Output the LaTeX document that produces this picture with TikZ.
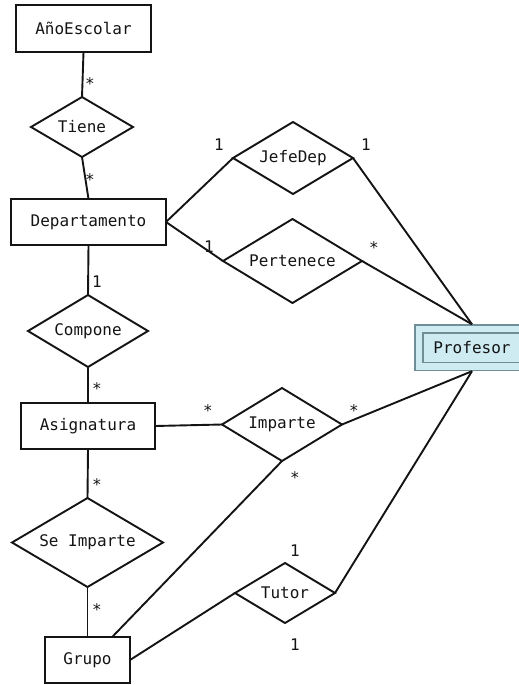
\documentclass[tikz,border=0pt]{standalone}
\usepackage{fontspec}
\newfontfamily\erfont{DejaVu Sans Mono}
\usetikzlibrary{shapes.geometric}
\definecolor{entfill}{RGB}{205,235,241}
\definecolor{entline}{RGB}{112,142,150}
\definecolor{ink}{RGB}{20,20,20}

\begin{document}
\begin{tikzpicture}[x=1pt,y=-1pt,
  font=\erfont\fontsize{16}{19}\selectfont,
  entity/.style={draw=ink, line width=1.9pt, rectangle, inner sep=0pt, outer sep=0pt, text=ink},
  weak/.style={rectangle, draw=entline, line width=1.4pt, double=entfill,
    double distance=6.6pt, fill=entfill, inner sep=0pt, outer sep=4.7pt, text=ink},
  rel/.style={draw=ink, line width=1.9pt, diamond, aspect=1.6, inner sep=0pt, outer sep=0pt, text=ink},
  link/.style={draw=ink, line width=1.9pt},
  card/.style={inner sep=0pt, text=ink},
  many/.style={card, yshift=-3pt}
]
\useasboundingbox (0,0) rectangle (519,685);
\clip (0,0) rectangle (519,685);

% entities
\node[entity, minimum width=135pt, minimum height=47pt] (anio) at (83.5,28.5) {AñoEscolar};
\node[entity, minimum width=155pt, minimum height=46pt] (dep) at (88.5,222) {Departamento};
\node[entity, minimum width=134pt, minimum height=46pt] (asig) at (88,426) {Asignatura};
\node[entity, minimum width=85pt, minimum height=46pt] (grupo) at (87.5,660) {Grupo};
\node[weak, minimum width=106pt, minimum height=37.5pt] (prof) at (472,347.75) {Profesor};

% relationships
\node[rel, minimum width=102pt, minimum height=60pt] (tiene) at (82,127) {Tiene};
\node[rel, minimum width=120pt, minimum height=72pt] (jefe) at (293,158) {JefeDep};
\node[rel, minimum width=139pt, minimum height=84pt] (pert) at (292.5,261) {Pertenece};
\node[rel, minimum width=120pt, minimum height=72pt] (comp) at (88,331) {Compone};
\node[rel, minimum width=120pt, minimum height=73pt] (imp) at (282,424.5) {Imparte};
\node[rel, minimum width=151pt, minimum height=89pt] (seimp) at (87.5,542.5) {Se Imparte};
\node[rel, minimum width=100pt, minimum height=60pt] (tutor) at (285,593) {Tutor};

% connectors
\draw[link] (anio.south) -- (tiene.north);
\draw[link] (tiene.south) -- (dep.north);
\draw[link] (dep.east) -- (jefe.west);
\draw[link] (jefe.east) -- (prof.north);
\draw[link] (dep.east) -- (pert.west);
\draw[link] (pert.east) -- (prof.north);
\draw[link] (dep.south) -- (comp.north);
\draw[link] (comp.south) -- (asig.north);
\draw[link] (asig.east) -- (imp.west);
\draw[link] (imp.east) -- (prof.south);
\draw[link] (imp.south) -- (grupo.43);
\draw[link] (asig.south) -- (seimp.north);
\draw[link] (seimp.south) -- (grupo.north);
\draw[link] (grupo.east) -- (tutor.west);
\draw[link] (tutor.east) -- (prof.south);

% cardinalities
\node[many] (c1) at (90,81) {*};
\node[many] (c2) at (90,177) {*};
\node[card] (c3) at (219,145) {1};
\node[card] (c4) at (366,145) {1};
\node[card] (c5) at (209,247) {1};
\node[many] (c6) at (374,245) {*};
\node[card] (c7) at (97,282) {1};
\node[many] (c8) at (97,386) {*};
\node[many] (c9) at (208,408) {*};
\node[many] (c10) at (354,408) {*};
\node[many] (c11) at (295,475) {*};
\node[many] (c12) at (97,482) {*};
\node[many] (c13) at (97,607) {*};
\node[card] (c14) at (295,551) {1};
\node[card] (c15) at (295,645) {1};
\end{tikzpicture}
\end{document}
